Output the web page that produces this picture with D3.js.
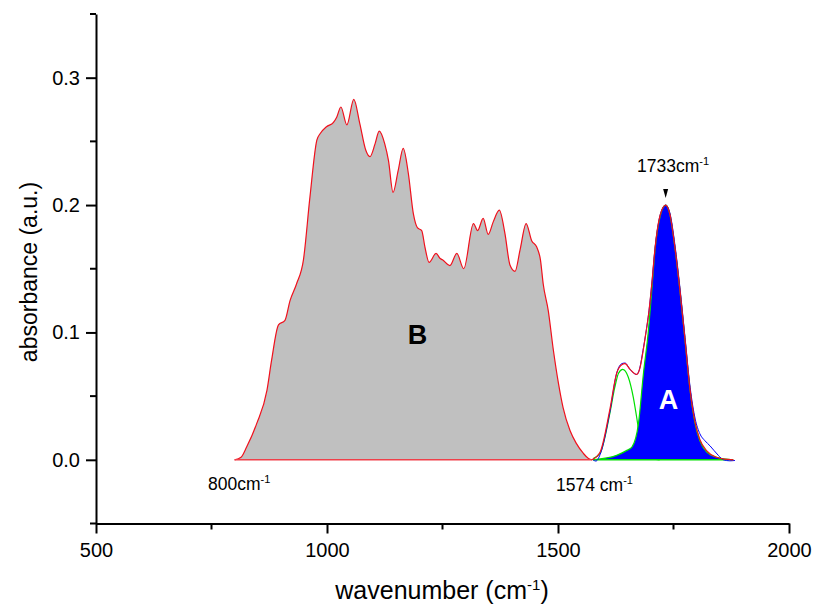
<!DOCTYPE html>
<html>
<head>
<meta charset="utf-8">
<script src="https://cdn.jsdelivr.net/npm/d3@7"></script>
<style>
  body { margin:0; background:#fff; }
  text { font-family: "Liberation Sans", Arial, sans-serif; }
</style>
</head>
<body>
<div id="chart"></div>
<script>
// spectre B (zone grise) : [wavenumber, absorbance]
var bandB = [[800,0],[814,0.002],[826,0.010],[848,0.0286],[870,0.0545],[880,0.078],[895,0.106],
  [909,0.1095],[920,0.125],[934,0.138],[949,0.157],[963,0.206],[978,0.251],[985,0.256],[999,0.2615],
  [1014,0.265],[1021,0.269],[1030,0.277],[1043,0.263],[1058,0.283],[1071,0.264],[1084,0.243],
  [1093,0.238],[1104,0.248],[1113,0.258],[1125,0.248],[1133,0.235],[1143,0.210],[1154,0.227],
  [1165,0.2445],[1176,0.225],[1187,0.193],[1196,0.182],[1205,0.180],[1212,0.167],[1221,0.155],
  [1236,0.162],[1245,0.158],[1250,0.157],[1266,0.1525],[1281,0.162],[1296,0.150],[1317,0.1855],
  [1326,0.180],[1338,0.1895],[1349,0.177],[1360,0.187],[1373,0.196],[1385,0.178],[1396,0.153],
  [1407,0.148],[1418,0.165],[1431,0.1855],[1443,0.172],[1454,0.167],[1462,0.157],[1468,0.138],
  [1479,0.117],[1490,0.086],[1501,0.060],[1511,0.041],[1526,0.023],[1540,0.0127],[1555,0.005],
  [1566,0.001],[1574,0]];

// pic A (bleu) centre 1733
var peakA = [[1576,0],[1627,0.0035],[1649,0.0074],[1660,0.010],[1674,0.028],[1685,0.068],
  [1695,0.099],[1703,0.133],[1710,0.165],[1721,0.191],[1733,0.2],[1742,0.193],[1753,0.167],
  [1764,0.133],[1775,0.094],[1786,0.0545],[1797,0.028],[1807,0.015],[1822,0.006],[1843,0.002],[1879,0]];

// petit pic vert
var peakSmall = [[1576,0.001],[1591,0.005],[1612,0.036],[1623,0.057],[1631,0.068],[1640,0.071],
  [1652,0.065],[1663,0.049],[1670,0.034],[1676,0.0205],[1685,0.008],[1700,0.001],[1720,0]];

// somme ajustee (rouge)
var fitSum = [[1573,0],[1591,0.006],[1612,0.039],[1627,0.068],[1638,0.0747],[1645,0.0755],
  [1656,0.071],[1670,0.067],[1677,0.0716],[1684,0.085],[1690,0.099],[1697,0.117],[1703,0.138],
  [1710,0.166],[1721,0.192],[1733,0.2],[1742,0.193],[1753,0.167],[1764,0.133],[1775,0.094],
  [1786,0.0545],[1797,0.029],[1807,0.016],[1822,0.007],[1843,0.002],[1860,0.0005],[1880,0]];

// spectre mesure (bleu fin)
var measured = [[1576,0],[1582,-0.001],[1591,0.004],[1612,0.037],[1627,0.068],[1638,0.0755],
  [1645,0.076],[1656,0.071],[1670,0.067],[1677,0.072],[1684,0.086],[1690,0.099],[1697,0.117],
  [1703,0.138],[1710,0.166],[1721,0.192],[1733,0.2],[1742,0.194],[1753,0.169],[1764,0.135],
  [1775,0.096],[1786,0.057],[1797,0.032],[1807,0.0205],[1818,0.015],[1829,0.011],[1847,0.0035],
  [1858,0],[1872,-0.0008],[1883,-0.0005]];

var xMajor = [500,1000,1500,2000],
    xMinor = [750,1250,1750],
    yMajor = [0,0.1,0.2,0.3],
    yMinor = [-0.05,0.05,0.15,0.25,0.35];

var width = 815, height = 609;
var x = d3.scaleLinear().domain([500,2000]).range([96,789]);
var y = d3.scaleLinear().domain([-0.05,0.35]).range([523.5,14]);

var svg = d3.select("#chart").append("svg")
  .attr("width",width).attr("height",height);

var line = d3.line().x(d=>x(d[0])).y(d=>y(d[1])).curve(d3.curveMonotoneX);
var area = d3.area().x(d=>x(d[0])).y0(y(0)).y1(d=>y(d[1])).curve(d3.curveMonotoneX);

// zone B
svg.append("path").attr("d",area(bandB)).style("fill","#c0c0c0");
svg.append("path").attr("d",line(bandB)).style("fill","none").style("stroke","#f0101c").style("stroke-width",1.2);
svg.append("line").attr("x1",x(800)).attr("x2",x(1574)).attr("y1",y(0)).attr("y2",y(0))
  .style("stroke","#f0404a").style("stroke-width",1.5);

// pics ajustes
svg.append("path").attr("d",line(peakSmall)).style("fill","none").style("stroke","#00e000").style("stroke-width",1.2);
svg.append("path").attr("d",area(peakA)).style("fill","#0000ff");
svg.append("path").attr("d",line(peakA)).style("fill","none").style("stroke","#00e000").style("stroke-width",1.2);
svg.append("line").attr("x1",x(1576)).attr("x2",x(1879)).attr("y1",y(0)).attr("y2",y(0))
  .style("stroke","#00e000").style("stroke-width",1.5);
svg.append("path").attr("d",line(measured)).style("fill","none").style("stroke","#0000ff").style("stroke-width",1);
svg.append("path").attr("d",line(fitSum)).style("fill","none").style("stroke","#f0101c").style("stroke-width",1.2);

// axes
function styleAxis(g) {
  g.selectAll("path,line").style("stroke","#000").style("stroke-width",2);
  g.selectAll("text").style("font-size","20px").style("fill","#000")
   .style("font-family",'"Liberation Sans", Arial, sans-serif');
}
var gx = svg.append("g").attr("transform","translate(0,"+y(-0.05)+")")
  .call(d3.axisBottom(x).tickValues(xMajor).tickSize(10).tickSizeOuter(0).tickPadding(9).tickFormat(d3.format("d")));
gx.append("g").selectAll("line").data(xMinor).join("line")
  .attr("x1",d=>x(d)).attr("x2",d=>x(d)).attr("y1",0).attr("y2",6);
styleAxis(gx);

var gy = svg.append("g").attr("transform","translate("+x(500)+",0)")
  .call(d3.axisLeft(y).tickValues(yMajor).tickSize(10).tickSizeOuter(0).tickPadding(6).tickFormat(d3.format(".1f")));
gy.append("g").selectAll("line").data(yMinor).join("line")
  .attr("x1",0).attr("x2",-6).attr("y1",d=>y(d)).attr("y2",d=>y(d));
styleAxis(gy);

// titres
svg.append("text").attr("transform","translate(37,272) rotate(-90)")
  .attr("text-anchor","middle").style("font-size","23px").text("absorbance (a.u.)");
var xt = svg.append("text").attr("x",442).attr("y",599).attr("text-anchor","middle").style("font-size","25px");
xt.append("tspan").text("wavenumber (cm");
xt.append("tspan").attr("dy",-9).style("font-size","15px").text("-1");
xt.append("tspan").attr("dy",9).text(")");

// annotations
function label(txt,px,py,anchor) {
  var t = svg.append("text").attr("x",px).attr("y",py).attr("text-anchor",anchor||"start").style("font-size","17.5px");
  t.append("tspan").text(txt);
  t.append("tspan").attr("dy",-7).style("font-size","11px").text("-1");
}
label("800cm",208,490);
label("1574 cm",556,491);
label("1733cm",637,172);
// fleche vers le max
svg.append("path").attr("d","M"+(x(1733)-2.5)+",189 L"+(x(1733)+2.5)+",189 L"+x(1733)+",198 Z").style("fill","#000");

svg.append("text").attr("x",417.5).attr("y",344).attr("text-anchor","middle")
  .style("font-size","27px").style("font-weight","bold").text("B");
svg.append("text").attr("x",668.5).attr("y",409).attr("text-anchor","middle")
  .style("font-size","27px").style("font-weight","bold").style("fill","#fff").text("A");
</script>
</body>
</html>
